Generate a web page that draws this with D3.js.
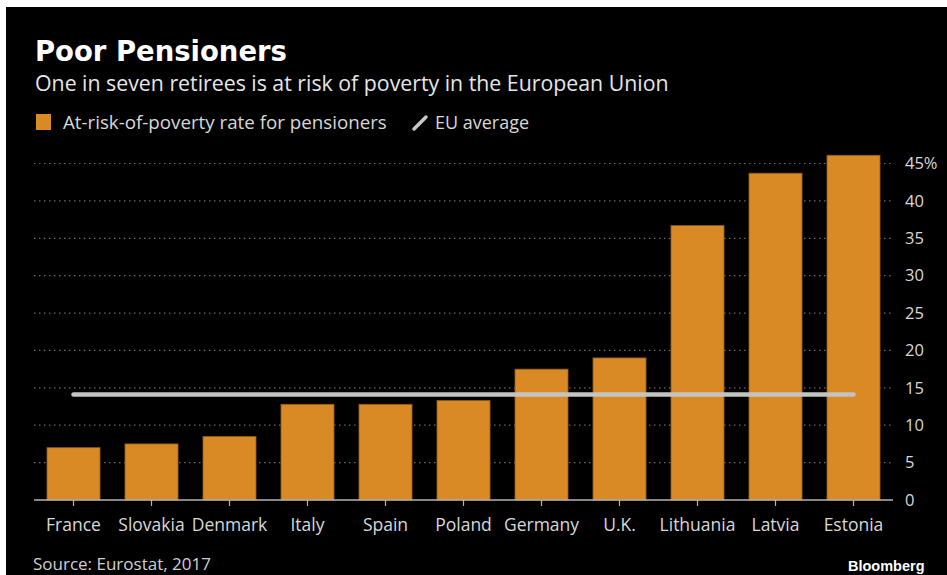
<!DOCTYPE html>
<html>
<head>
<meta charset="utf-8">
<script src="https://cdn.jsdelivr.net/npm/d3@7"></script>
<style>
  html, body { margin: 0; padding: 0; background: #fff; }
  svg { display: block; }
</style>
</head>
<body>
<script>
// At-risk-of-poverty rate for pensioners, by country (%)
const countries = ["France", "Slovakia", "Denmark", "Italy", "Spain", "Poland",
                   "Germany", "U.K.", "Lithuania", "Latvia", "Estonia"];
const rates = [7.0, 7.5, 8.5, 12.8, 12.8, 13.3, 17.5, 19.0, 36.7, 43.7, 46.1];
const euAverage = 14.1;
const yTicks = [0, 5, 10, 15, 20, 25, 30, 35, 40, 45];

const W = 947, H = 575;
const font = "'Open Sans', 'DejaVu Sans', sans-serif";
const orange = "#da8a25";

const svg = d3.select("body").append("svg").attr("width", W).attr("height", H);

// dark card with a thin white margin top/left
svg.append("rect").attr("x", 6).attr("y", 7).attr("width", W - 6).attr("height", H - 7).attr("fill", "#000");

// scale text so it spans a given width
function fit(sel, width) {
  const w = sel.node().getComputedTextLength();
  const fs = parseFloat(sel.attr("font-size"));
  sel.attr("font-size", fs * width / w);
  return sel;
}

fit(svg.append("text").attr("x", 35).attr("y", 61)
  .attr("font-family", "'DejaVu Sans', sans-serif").attr("font-weight", "bold")
  .attr("font-size", 24).attr("fill", "#fff").text("Poor Pensioners"), 252);

fit(svg.append("text").attr("x", 35).attr("y", 91)
  .attr("font-family", font).attr("font-size", 19).attr("fill", "#e6e6e6")
  .text("One in seven retirees is at risk of poverty in the European Union"), 634);

// legend
svg.append("rect").attr("x", 36).attr("y", 114).attr("width", 15).attr("height", 16).attr("fill", orange);
fit(svg.append("text").attr("x", 63).attr("y", 128.5)
  .attr("font-family", font).attr("font-size", 17).attr("fill", "#d8d8d8")
  .text("At-risk-of-poverty rate for pensioners"), 324);
svg.append("line").attr("x1", 414).attr("y1", 129).attr("x2", 426).attr("y2", 117)
  .attr("stroke", "#c8c8c8").attr("stroke-width", 3.5).attr("stroke-linecap", "round");
fit(svg.append("text").attr("x", 435).attr("y", 128.5)
  .attr("font-family", font).attr("font-size", 17).attr("fill", "#d8d8d8")
  .text("EU average"), 94);

// scales
const x = d3.scaleBand().domain(countries).range([34.5, 892.5]).paddingInner(0.32).paddingOuter(0.16);
const y = d3.scaleLinear().domain([0, 45]).range([500, 163.5]);

// dotted gridlines
svg.append("g").selectAll("line").data(yTicks.filter(d => d > 0)).join("line")
  .attr("x1", 34).attr("x2", 893)
  .attr("y1", d => y(d)).attr("y2", d => y(d))
  .attr("stroke", "#6a6a6a").attr("stroke-width", 1.2).attr("stroke-dasharray", "1.5,3.5");

// bars
svg.append("g").selectAll("rect").data(countries).join("rect")
  .attr("x", d => x(d)).attr("width", x.bandwidth())
  .attr("y", (d, i) => y(rates[i])).attr("height", (d, i) => y(0) - y(rates[i]))
  .attr("fill", orange).attr("stroke", "#8f5a17").attr("stroke-width", 0.8);

// EU average line
svg.append("line")
  .attr("x1", x(countries[0]) + x.bandwidth() / 2)
  .attr("x2", x(countries[countries.length - 1]) + x.bandwidth() / 2)
  .attr("y1", y(euAverage)).attr("y2", y(euAverage))
  .attr("stroke", "#c4c4c4").attr("stroke-width", 4.5).attr("stroke-linecap", "round");

// x axis
const xAxis = svg.append("g").attr("transform", `translate(0,${y(0)})`)
  .call(d3.axisBottom(x).tickSize(6).tickPadding(13).tickSizeOuter(0));
xAxis.select(".domain").attr("d", "M34,0H893").attr("stroke", "#b4b4b4").attr("stroke-width", 1.5);
xAxis.selectAll(".tick line").attr("stroke", "#b4b4b4").attr("stroke-width", 1.2);
xAxis.selectAll(".tick text").attr("fill", "#d8d8d8").attr("font-family", font).attr("font-size", 17.5);

// y axis labels on the right
const yAxis = svg.append("g").attr("transform", "translate(905,0)")
  .call(d3.axisRight(y).tickValues(yTicks).tickSize(0).tickPadding(0)
    .tickFormat(d => d === 45 ? "45%" : d));
yAxis.select(".domain").remove();
yAxis.selectAll(".tick text").attr("fill", "#d8d8d8").attr("font-family", font).attr("font-size", 16.5);

// footer
svg.append("text").attr("x", 33).attr("y", 570)
  .attr("font-family", font).attr("font-size", 17).attr("fill", "#d0d0d0")
  .text("Source: Eurostat, 2017");
svg.append("text").attr("x", 848).attr("y", 570.5)
  .attr("font-family", "'Liberation Sans', Arial, sans-serif").attr("font-weight", "bold")
  .attr("font-size", 14.5).attr("fill", "#fff").text("Bloomberg");
</script>
</body>
</html>
